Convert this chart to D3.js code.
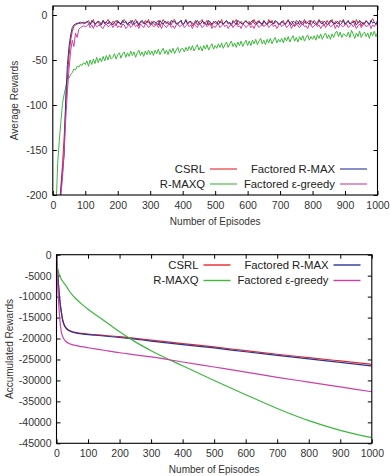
<!DOCTYPE html>
<html>
<head>
<meta charset="utf-8">
<script src="https://cdn.jsdelivr.net/npm/d3@7"></script>
<style>
  body { margin: 0; background: #fff; }
  svg { display: block; font-family: "Liberation Sans", Arial, sans-serif; }
</style>
</head>
<body>
<svg id="chart" width="390" height="476"></svg>
<script>
// ---- top panel: average reward per episode (every 5th episode) ----
var episodes = d3.range(5, 1001, 5);

var avgCSRL = [-300,-280,-250,-215,-190,-165,-135,-100,-70,-45,-28,-18,-13,-11,-10,-9,-10,-8,-10,-9,
  -8,-6,-10,-9,-5,-11,-8,-7,-12,-9,-6,-10,-8,-5,-9,-11,-7,-8,-12,-6,
  -9,-11,-7,-5,-8,-10,-9,-6,-11,-8,-5,-9,-12,-7,-8,-10,-6,-9,-5,-11,
  -7,-9,-11,-8,-6,-12,-9,-5,-8,-10,-7,-9,-11,-6,-5,-9,-10,-8,-6,-11,
  -9,-5,-10,-7,-8,-12,-9,-6,-11,-8,-7,-5,-10,-9,-6,-11,-8,-12,-7,-9,
  -10,-6,-9,-5,-11,-8,-7,-10,-9,-12,-6,-8,-5,-11,-9,-7,-10,-8,-6,-9,
  -7,-11,-8,-5,-9,-10,-6,-9,-12,-7,-8,-11,-5,-9,-6,-10,-8,-7,-11,-9,
  -8,-6,-11,-9,-5,-10,-7,-9,-12,-6,-8,-11,-7,-9,-5,-10,-8,-6,-11,-9,
  -6,-9,-11,-5,-8,-7,-12,-9,-6,-10,-8,-5,-11,-7,-9,-10,-6,-8,-5,-11,
  -9,-7,-10,-8,-6,-11,-5,-9,-7,-12,-8,-10,-6,-9,-11,-7,-4,-8,-10,-6];

var avgRMAX = [-300,-280,-250,-220,-195,-175,-155,-90,-55,-35,-22,-14,-11,-10,-9,-9,-8,-9,-8,-9,
  -7,-9,-11,-6,-8,-10,-9,-7,-8,-11,-6,-9,-8,-10,-7,-9,-11,-8,-6,-9,
  -8,-10,-6,-9,-7,-11,-8,-9,-6,-10,-9,-7,-11,-8,-6,-9,-10,-7,-8,-9,
  -10,-7,-8,-9,-11,-6,-9,-10,-7,-8,-9,-11,-6,-8,-7,-10,-9,-8,-6,-11,
  -9,-6,-10,-8,-7,-9,-11,-8,-6,-9,-10,-7,-8,-9,-11,-6,-8,-10,-9,-7,
  -8,-11,-7,-9,-10,-8,-6,-9,-8,-11,-7,-9,-10,-6,-8,-9,-11,-8,-7,-9,
  -10,-8,-6,-9,-11,-7,-8,-9,-10,-6,-9,-11,-8,-7,-9,-10,-6,-8,-9,-11,
  -7,-9,-10,-8,-6,-9,-11,-7,-8,-9,-10,-6,-9,-11,-8,-7,-9,-10,-6,-8,
  -9,-11,-8,-6,-9,-10,-7,-8,-11,-9,-6,-8,-9,-10,-7,-8,-11,-9,-6,-10,
  -8,-6,-10,-9,-8,-7,-11,-9,-6,-8,-10,-9,-7,-8,-11,-6,-9,-8,-10,-9];

var avgRMAXQ = [-260,-215,-165,-140,-118,-98,-88,-80,-72,-70,-66,-64,-60,-61,-57,-58,-55,-56,-53,-55,
  -51,-57,-50,-55,-49,-54,-47,-53,-48,-52,-46,-51,-45,-50,-44,-49,-47,-43,-49,-44,
  -42,-48,-43,-41,-47,-42,-46,-40,-45,-41,-47,-42,-39,-45,-41,-46,-40,-44,-39,-44,
  -40,-45,-39,-43,-38,-44,-40,-37,-43,-39,-44,-38,-42,-37,-43,-39,-36,-42,-38,-37,
  -41,-36,-40,-35,-39,-34,-40,-36,-33,-39,-35,-40,-34,-38,-33,-39,-35,-32,-38,-34,
  -37,-32,-36,-31,-37,-33,-30,-36,-32,-29,-35,-31,-36,-30,-34,-29,-35,-31,-28,-34,
  -29,-34,-28,-32,-27,-33,-29,-26,-32,-28,-33,-27,-31,-26,-32,-28,-25,-31,-27,-30,
  -26,-31,-25,-29,-24,-30,-26,-23,-29,-25,-30,-24,-28,-23,-29,-25,-22,-28,-24,-27,
  -23,-28,-22,-26,-21,-27,-23,-20,-26,-22,-27,-21,-25,-20,-18,-24,-19,-25,-21,-22,
  -24,-19,-25,-17,-21,-26,-20,-24,-18,-25,-21,-19,-24,-20,-26,-19,-23,-18,-24,-20];

var avgEps = [-300,-280,-250,-220,-200,-180,-150,-115,-85,-60,-40,-28,-35,-20,-25,-16,-14,-13,-12,-13,
  -12,-10,-14,-11,-15,-10,-13,-12,-10,-14,-15,-11,-10,-13,-12,-10,-14,-11,-10,-14,
  -12,-14,-10,-11,-15,-13,-10,-14,-12,-10,-13,-11,-15,-10,-12,-14,-10,-11,-14,-12,
  -10,-13,-12,-10,-14,-11,-15,-10,-12,-14,-11,-10,-14,-12,-15,-11,-10,-13,-12,-10,
  -14,-12,-10,-13,-11,-15,-10,-12,-14,-10,-11,-14,-12,-10,-13,-11,-10,-15,-12,-14,
  -11,-10,-14,-12,-10,-13,-11,-15,-12,-10,-14,-11,-10,-13,-12,-15,-10,-11,-14,-12,
  -10,-14,-12,-15,-10,-11,-14,-12,-10,-13,-11,-10,-14,-12,-10,-13,-11,-15,-12,-10,
  -13,-11,-10,-14,-12,-10,-15,-11,-13,-10,-12,-14,-11,-10,-13,-12,-15,-10,-11,-14,
  -12,-10,-13,-11,-15,-12,-10,-14,-11,-10,-13,-12,-10,-15,-11,-14,-10,-12,-13,-11,
  -10,-14,-12,-10,-13,-11,-15,-12,-10,-14,-11,-10,-13,-12,-10,-15,-11,-13,-10,-12];

// ---- bottom panel: accumulated reward ----
var accEpisodes = [0,5,10,15,20,25,30,40,50,60,80,100,150,200,250,300,400,500,600,700,800,900,1000];
var accCSRL  = [-500,-5800,-10500,-13500,-15700,-16800,-17400,-18050,-18350,-18550,-18780,-18950,-19250,-19560,-19950,-20400,-21200,-22000,-22900,-23750,-24550,-25350,-26150];
var accRMAX  = [-500,-5800,-10500,-13600,-15800,-16900,-17500,-18150,-18450,-18650,-18900,-19050,-19400,-19750,-20150,-20600,-21450,-22250,-23150,-24000,-24850,-25700,-26560];
var accRMAXQ = [-1500,-3700,-5000,-5800,-6400,-6900,-7400,-8600,-9600,-10400,-11800,-13000,-15700,-18400,-20800,-22900,-26500,-30000,-33400,-36700,-39600,-41900,-43650];
var accEps   = [-500,-9000,-15000,-18300,-19600,-20300,-20700,-21200,-21450,-21650,-21950,-22200,-22800,-23400,-23900,-24400,-25600,-26800,-28000,-29250,-30400,-31550,-32700];

var seriesNames = ["CSRL", "Factored R-MAX", "R-MAXQ", "Factored \u03b5-greedy"];
var colors = {"CSRL": "#e8262a", "Factored R-MAX": "#27369a", "R-MAXQ": "#3cb83c", "Factored \u03b5-greedy": "#cc3fa8"};

var xTicks = d3.range(0, 1001, 100);
var yTicksTop = [0, -50, -100, -150, -200];
var yTicksBottom = d3.range(0, -45001, -5000);

var svg = d3.select("#chart");
var plain = function(d) { return String(d); };   // gnuplot prints plain "-5000"

function panel(cfg) {
  var x = d3.scaleLinear().domain([0, 1000]).range([cfg.left, cfg.right]);
  var y = d3.scaleLinear().domain(cfg.yDomain).range([cfg.bottom, cfg.top]);
  var g = svg.append("g");

  var clipId = "clip" + cfg.id;
  g.append("clipPath").attr("id", clipId).append("rect")
    .attr("x", cfg.left).attr("y", cfg.top)
    .attr("width", cfg.right - cfg.left).attr("height", cfg.bottom - cfg.top);

  // axes, gnuplot style: ticks inside and mirrored
  var ax = g.append("g").attr("transform", "translate(0," + cfg.bottom + ")")
    .call(d3.axisBottom(x).tickValues(xTicks).tickSize(-4).tickPadding(cfg.xPad).tickFormat(plain));
  var axTop = g.append("g").attr("transform", "translate(0," + cfg.top + ")")
    .call(d3.axisTop(x).tickValues(xTicks).tickSize(-4).tickFormat(""));
  var ay = g.append("g").attr("transform", "translate(" + cfg.left + ",0)")
    .call(d3.axisLeft(y).tickValues(cfg.yTicks).tickSize(-4).tickPadding(cfg.yPad).tickFormat(plain));
  var ayR = g.append("g").attr("transform", "translate(" + cfg.right + ",0)")
    .call(d3.axisRight(y).tickValues(cfg.yTicks).tickSize(-4).tickFormat(""));
  [ax, axTop, ay, ayR].forEach(function(a) {
    a.select(".domain").remove();
    a.selectAll(".tick line").attr("stroke", "#000");
    a.selectAll("text").attr("fill", "#333").style("font-size", "10.5px")
      .style("font-family", '"Liberation Sans", Arial, sans-serif');
  });

  var line = d3.line()
    .x(function(d) { return x(d[0]); })
    .y(function(d) { return y(d[1]); });
  if (cfg.curve) line.curve(cfg.curve);

  var plot = g.append("g").attr("clip-path", "url(#" + clipId + ")");
  cfg.order.forEach(function(name) {
    var vals = cfg.data[name];
    plot.append("path")
      .datum(cfg.xs.map(function(e, i) { return [e, vals[i]]; }))
      .attr("fill", "none")
      .attr("stroke", colors[name])
      .attr("stroke-width", cfg.lineWidth)
      .attr("stroke-linejoin", "round")
      .attr("d", line);
  });

  g.append("rect")
    .attr("x", cfg.left).attr("y", cfg.top)
    .attr("width", cfg.right - cfg.left).attr("height", cfg.bottom - cfg.top)
    .attr("fill", "none").attr("stroke", "#000").attr("stroke-width", 1.1);

  // axis titles
  g.append("text")
    .attr("x", (cfg.left + cfg.right) / 2).attr("y", cfg.xTitleY)
    .attr("text-anchor", "middle").attr("dy", "0.35em")
    .attr("fill", "#333").style("font-size", "10px")
    .text("Number of Episodes");
  g.append("text")
    .attr("transform", "translate(" + cfg.yTitleX + "," + ((cfg.top + cfg.bottom) / 2) + ") rotate(-90)")
    .attr("text-anchor", "middle").attr("dy", "0.35em")
    .attr("fill", "#333").style("font-size", "10px")
    .text(cfg.yTitle);

  // legend: two columns, two rows
  var leg = g.append("g");
  seriesNames.forEach(function(name, i) {
    var col = i % 2, row = Math.floor(i / 2);
    var tx = cfg.legend.textX[col];
    var ty = cfg.legend.rowY[row];
    leg.append("text")
      .attr("x", tx).attr("y", ty).attr("dy", "0.35em")
      .attr("text-anchor", "end").attr("fill", "#222")
      .style("font-size", "11.3px")
      .text(name);
    leg.append("line")
      .attr("x1", tx + 5).attr("x2", tx + 32)
      .attr("y1", ty).attr("y2", ty)
      .attr("stroke", colors[name]).attr("stroke-width", cfg.legendWidth);
  });
}

panel({
  id: "top", left: 52.8, right: 377.5, top: 6, bottom: 195,
  yDomain: [-200, 10], yTicks: yTicksTop, xPad: 7, yPad: 5.5,
  xs: episodes,
  data: {"CSRL": avgCSRL, "Factored R-MAX": avgRMAX, "R-MAXQ": avgRMAXQ, "Factored \u03b5-greedy": avgEps},
  order: ["CSRL", "R-MAXQ", "Factored R-MAX", "Factored \u03b5-greedy"],
  lineWidth: 1, legendWidth: 1.1,
  xTitleY: 221, yTitleX: 14, yTitle: "Average Rewards",
  legend: {textX: [205, 335], rowY: [169, 184]}
});

panel({
  id: "bottom", left: 56.5, right: 371.8, top: 254.7, bottom: 443.3,
  yDomain: [-45000, 0], yTicks: yTicksBottom, xPad: 6, yPad: 5,
  xs: accEpisodes, curve: d3.curveMonotoneX,
  data: {"CSRL": accCSRL, "Factored R-MAX": accRMAX, "R-MAXQ": accRMAXQ, "Factored \u03b5-greedy": accEps},
  order: ["CSRL", "Factored R-MAX", "R-MAXQ", "Factored \u03b5-greedy"],
  lineWidth: 1.2, legendWidth: 1.4,
  xTitleY: 469, yTitleX: 9, yTitle: "Accumulated Rewards",
  legend: {textX: [198.5, 328.5], rowY: [265, 280.5]}
});
</script>
</body>
</html>
